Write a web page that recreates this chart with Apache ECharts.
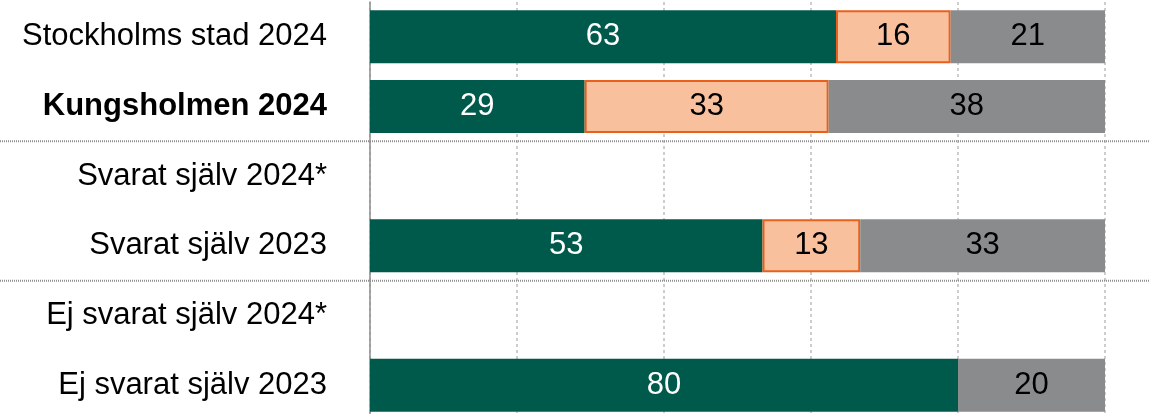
<!DOCTYPE html>
<html>
<head>
<meta charset="utf-8">
<script src="https://cdn.jsdelivr.net/npm/echarts@6/dist/echarts.min.js"></script>
<style>
html,body{margin:0;padding:0;background:#fff;}
#chart{width:1149px;height:414px;}
</style>
</head>
<body>
<div id="chart"></div>
<script>
const categories = ['Stockholms stad 2024', 'Kungsholmen 2024', 'Svarat själv 2024*', 'Svarat själv 2023', 'Ej svarat själv 2024*', 'Ej svarat själv 2023'];
const boldCategory = 'Kungsholmen 2024';
const seriesNames = ['Ja', 'Delvis', 'Nej'];
const valuesGreen = [63.4, 29.2, null, 53.4, null, 80];
const valuesPeach = [15.6, 33.2, null, 13.3, null, null];
const valuesGray = [21.0, 37.6, null, 33.3, null, 20];
const xTicks = [0, 20, 40, 60, 80, 100];
const separatorsAfter = [1, 3];

const FONT = '"Liberation Sans", Arial, sans-serif';
const chart = echarts.init(document.getElementById('chart'));

function lbl(color) {
  return {
    show: true,
    position: 'inside',
    color: color,
    fontSize: 31,
    fontFamily: FONT,
    formatter: p => (p.value == null ? '' : String(Math.round(p.value)))
  };
}

chart.setOption({
  animation: false,
  backgroundColor: '#ffffff',
  grid: { left: 370, right: 44, top: 2, height: 418, containLabel: false, outerBoundsMode: 'none' },
  xAxis: {
    type: 'value',
    min: xTicks[0],
    max: xTicks[xTicks.length - 1],
    interval: xTicks[1] - xTicks[0],
    axisLabel: { show: false },
    axisLine: { show: false },
    axisTick: { show: false },
    splitLine: { show: true, lineStyle: { color: '#bdbdbd', width: 1.5, type: [3, 3] } }
  },
  yAxis: {
    type: 'category',
    inverse: true,
    data: categories,
    axisLine: { show: true, lineStyle: { color: '#8c8c8c', width: 1.5 } },
    axisTick: { show: false },
    axisLabel: {
      fontSize: 31,
      fontFamily: FONT,
      color: '#000',
      margin: 43,
      formatter: v => (v === boldCategory ? '{b|' + v + '}' : v),
      rich: { b: { fontWeight: 'bold', fontSize: 31, fontFamily: FONT, color: '#000' } }
    }
  },
  series: [
    {
      name: seriesNames[0], type: 'bar', stack: 's', barWidth: 53,
      data: valuesGreen,
      itemStyle: { color: '#005a4c' },
      label: lbl('#ffffff')
    },
    {
      name: seriesNames[1], type: 'bar', stack: 's', barWidth: 53,
      data: valuesPeach,
      itemStyle: { color: '#f8c09d', borderColor: '#e8601c', borderWidth: 2 },
      label: lbl('#000000')
    },
    {
      name: seriesNames[2], type: 'bar', stack: 's', barWidth: 53,
      data: valuesGray,
      itemStyle: { color: '#898b8d' },
      label: lbl('#000000')
    }
  ]
});

// separator lines between category groups, positioned from the category scale
const graphics = separatorsAfter.map(i => {
  const y1 = chart.convertToPixel({ yAxisIndex: 0 }, categories[i]);
  const y2 = chart.convertToPixel({ yAxisIndex: 0 }, categories[i + 1]);
  const y = (y1 + y2) / 2;
  return {
    type: 'line',
    z: 10,
    shape: { x1: 0, y1: y, x2: chart.getWidth(), y2: y },
    style: { stroke: '#8f8f8f', lineWidth: 2, lineDash: [1, 1] }
  };
});
chart.setOption({ graphic: graphics });
</script>
</body>
</html>
